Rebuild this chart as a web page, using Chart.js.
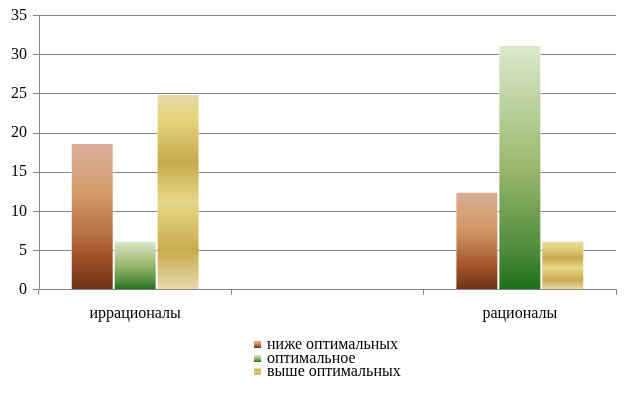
<!DOCTYPE html>
<html lang="ru">
<head>
<meta charset="utf-8">
<script src="https://cdn.jsdelivr.net/npm/chart.js@4/dist/chart.umd.min.js"></script>
<style>
    html, body { margin: 0; padding: 0; background: #fff; }
    #wrap { position: relative; width: 634px; height: 404px; }
    #legend {
        position: absolute; left: 254px; top: 337px;
        font-family: "Liberation Serif", serif; font-size: 16px; color: #000;
        line-height: 13.5px;
    }
    #legend div { white-space: nowrap; }
    #legend span.box {
        display: inline-block; width: 7px; height: 7px; margin-right: 6px;
        vertical-align: 1px;
    }
</style>
</head>
<body>
<div id="wrap">
    <canvas id="myChart" width="634" height="404"></canvas>
    <div id="legend"></div>
</div>
<script>
// данные диаграммы
const categories = ['иррационалы', '', 'рационалы'];
const seriesNames = ['ниже оптимальных', 'оптимальное', 'выше оптимальных'];
const belowValues = [18.75, null, 12.5];
const optimalValues = [6.25, null, 31.25];
const aboveValues = [25, null, 6.25];
const yTicks = [0, 5, 10, 15, 20, 25, 30, 35];

// градиенты столбцов (сверху вниз)
const brownStops = [[0, '#d7af99'], [0.35, '#d49a68'], [0.6, '#b87248'], [0.78, '#a14f28'], [1, '#6a3214']];
const greenStops = [[0, '#dce9cd'], [0.5, '#9ab76c'], [0.85, '#4c8a3a'], [1, '#1a6e1a']];
const yellowStops = [[0, '#e5daa8'], [0.12, '#e6d580'], [0.35, '#c8a94e'], [0.55, '#e6d888'], [0.8, '#c9aa4f'], [1, '#e8dcae']];

function gradientFor(stops) {
    return function (context) {
        const chart = context.chart;
        const { ctx, chartArea, scales } = chart;
        if (!chartArea || context.raw == null) return stops[0][1];
        const top = scales.y.getPixelForValue(context.raw);
        const bottom = scales.y.getPixelForValue(0);
        if (bottom - top < 1) return stops[0][1];
        const g = ctx.createLinearGradient(0, top, 0, bottom);
        stops.forEach(s => g.addColorStop(s[0], s[1]));
        return g;
    };
}

const allStops = [brownStops, greenStops, yellowStops];
const allValues = [belowValues, optimalValues, aboveValues];

const datasets = seriesNames.map((name, i) => ({
    label: name,
    data: allValues[i],
    backgroundColor: gradientFor(allStops[i]),
    borderColor: 'rgba(255,255,255,0.5)',
    borderWidth: 1,
    categoryPercentage: 0.67,
    barPercentage: 1.0
}));

const ctx = document.getElementById('myChart').getContext('2d');
const myChart = new Chart(ctx, {
    type: 'bar',
    data: { labels: categories, datasets: datasets },
    options: {
        responsive: false,
        animation: false,
        layout: { padding: { left: 4, right: 18, top: 13, bottom: 72 } },
        plugins: {
            legend: { display: false },
            tooltip: { enabled: false }
        },
        scales: {
            x: {
                offset: true,
                grid: {
                    offset: true,
                    drawOnChartArea: false,
                    drawTicks: true,
                    tickLength: 5,
                    color: '#868686'
                },
                border: { color: '#868686' },
                ticks: {
                    color: '#000',
                    padding: 9,
                    font: { family: 'Liberation Serif', size: 16 }
                }
            },
            y: {
                min: 0,
                max: 35,
                afterBuildTicks: axis => { axis.ticks = yTicks.map(v => ({ value: v })); },
                afterFit: axis => { axis.width = 35; },
                grid: { color: '#868686', tickLength: 6 },
                border: { color: '#868686' },
                ticks: {
                    color: '#000',
                    padding: 6,
                    font: { family: 'Liberation Serif', size: 16 }
                }
            }
        }
    }
});

// легенда списком, как в оригинале
const legend = document.getElementById('legend');
seriesNames.forEach((name, i) => {
    const row = document.createElement('div');
    const box = document.createElement('span');
    box.className = 'box';
    const stops = allStops[i];
    box.style.background = 'linear-gradient(to bottom, ' +
        stops.map(s => s[1] + ' ' + Math.round(s[0] * 100) + '%').join(', ') + ')';
    row.appendChild(box);
    row.appendChild(document.createTextNode(name));
    legend.appendChild(row);
});
</script>
</body>
</html>
